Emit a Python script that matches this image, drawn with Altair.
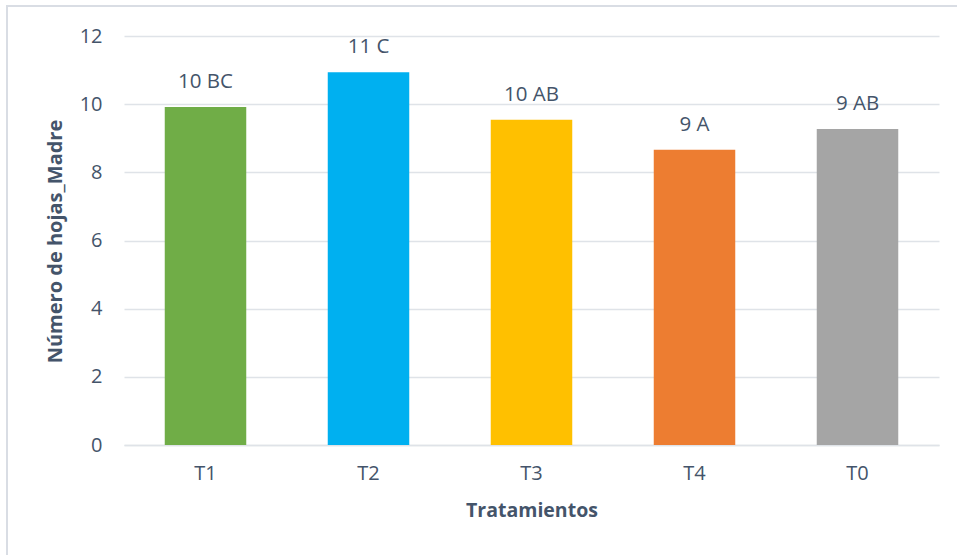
import altair as alt
import pandas as pd

# Mean number of leaves on the mother plant per treatment, with significance letters
tratamientos = ["T1", "T2", "T3", "T4", "T0"]
hojas = [9.92, 10.94, 9.54, 8.66, 9.27]
etiquetas = ["10 BC", "11 C", "10 AB", "9 A", "9 AB"]
colores = ["#70AD47", "#00B0F0", "#FFC000", "#ED7D31", "#A5A5A5"]

df = pd.DataFrame({"Tratamiento": tratamientos, "Hojas": hojas, "Etiqueta": etiquetas})

FONT = "Open Sans"
TXT = "#44546A"
GRID = "#DFE3E8"

x = alt.X(
    "Tratamiento:N",
    sort=tratamientos,
    scale=alt.Scale(paddingInner=0.5, paddingOuter=0.25),
    axis=alt.Axis(
        title="Tratamientos",
        labelAngle=0,
        labelFontSize=20,
        labelPadding=18,
        ticks=False,
        domain=True,
        domainColor=GRID,
        domainWidth=1.5,
        titleFontSize=19.5,
        titleFontWeight="bold",
        titleY=56,
        titleBaseline="top",
    ),
)

y = alt.Y(
    "Hojas:Q",
    scale=alt.Scale(domain=[0, 12]),
    axis=alt.Axis(
        title="Número de hojas_Madre",
        values=[0, 2, 4, 6, 8, 10, 12],
        labelFontSize=20,
        labelPadding=22,
        ticks=False,
        domain=False,
        grid=True,
        gridColor=GRID,
        gridWidth=1.5,
        titleFontSize=20,
        titleFontWeight="bold",
        titleX=-69,
        titleY=205,
        titleAngle=-90,
        titleAlign="center",
        titleBaseline="middle",
    ),
)

bars = alt.Chart(df).mark_bar().encode(
    x=x,
    y=y,
    color=alt.Color(
        "Tratamiento:N",
        scale=alt.Scale(domain=tratamientos, range=colores),
        legend=None,
    ),
)

labels = alt.Chart(df).mark_text(
    dy=-19, baseline="alphabetic", fontSize=20.5, font=FONT, color=TXT
).encode(
    x=alt.X("Tratamiento:N", sort=tratamientos),
    y="Hojas:Q",
    text="Etiqueta:N",
)

# outer frame of the figure
frame = alt.Chart(df).mark_rect(
    fill=None, stroke="#D9DDE3", strokeWidth=1.5, clip=False
).encode(
    x=alt.value(-117),
    x2=alt.value(850),
    y=alt.value(-30),
    y2=alt.value(530),
)

chart = (
    alt.layer(frame, bars, labels)
    .properties(
        width=815,
        height=409,
        autosize=alt.AutoSizeParams(type="none"),
        padding={"left": 124, "top": 36, "right": 18, "bottom": 110},
        background="white",
    )
    .configure_view(stroke=None)
    .configure_axis(
        labelFont=FONT,
        titleFont=FONT,
        labelColor=TXT,
        titleColor=TXT,
    )
)

chart.save("out.html", embed_options={"renderer": "svg", "actions": False})
